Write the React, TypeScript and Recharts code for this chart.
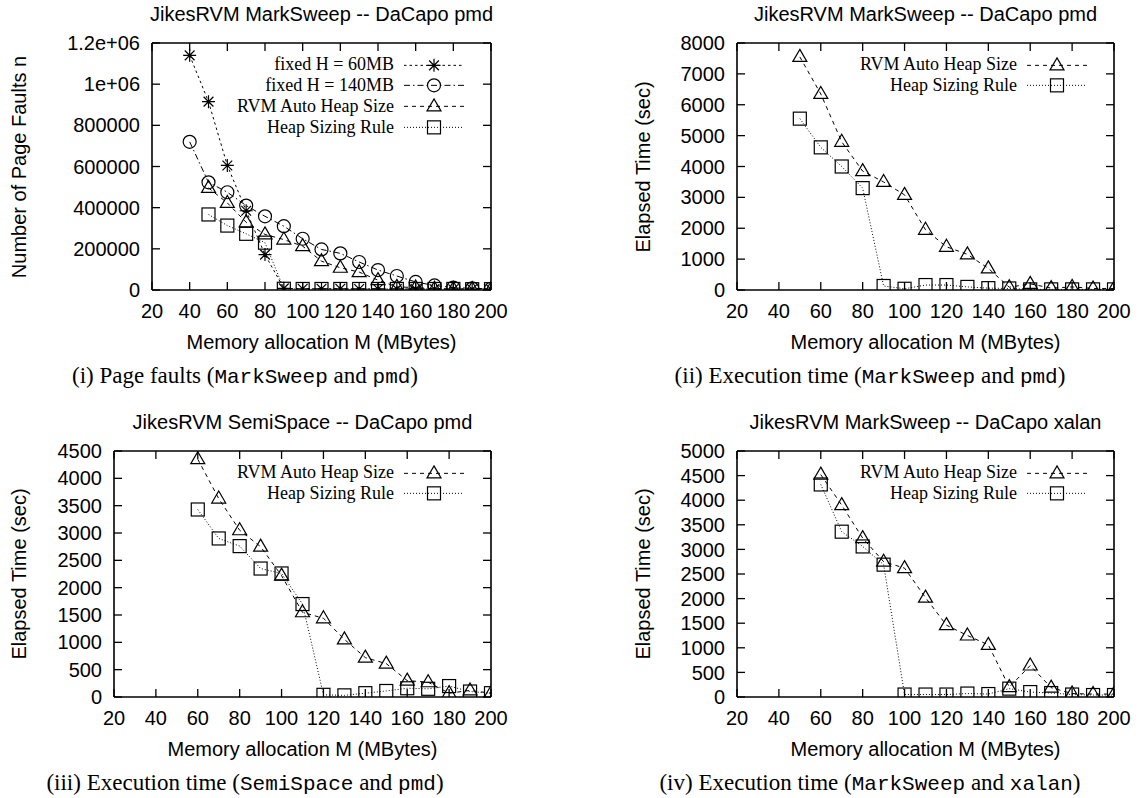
import React from "react";
import { LineChart, Line, XAxis, YAxis, Legend } from "recharts";

// (i) page faults, MarkSweep + pmd
const memFaults = [40, 50, 60, 70, 80, 90, 100, 110, 120, 130, 140, 150, 160, 170, 180, 190, 200];
const faultsFixed60 = [1140000, 915000, 605000, 385000, 172000, 8000, 6000, 6000, 6000, 5000, 5000, 5000, 5000, 5000, 4000, 4000, 4000];
const faultsFixed140 = [720000, 523000, 475000, 410000, 358000, 310000, 249000, 197000, 178000, 136000, 97000, 68000, 39000, 22000, 12000, 8000, 6000];
const faultsAuto = [null, 496000, 423000, 329000, 270000, 245000, 213000, 140000, 108000, 87000, 48000, 15000, 12000, 6000, 5000, 5000, 4000];
const faultsRule = [null, 367000, 313000, 273000, 230000, 6000, 5000, 5000, 5000, 5000, 5000, 5000, 5000, 5000, 5000, 4000, 4000];

// (ii) execution time, MarkSweep + pmd
const memPmd = [50, 60, 70, 80, 90, 100, 110, 120, 130, 140, 150, 160, 170, 180, 190, 200];
const pmdAuto = [7550, 6350, 4800, 3850, 3500, 3080, 1950, 1400, 1155, 700, 90, 200, 60, 100, 50, 50];
const pmdRule = [5550, 4620, 4000, 3300, 130, 40, 160, 160, 100, 60, 50, 20, 20, 20, 20, 20];

// (iii) execution time, SemiSpace + pmd
const memSemi = [60, 70, 80, 90, 100, 110, 120, 130, 140, 150, 160, 170, 180, 190, 200];
const semiAuto = [4350, 3630, 3050, 2750, 2220, 1550, 1440, 1055, 720, 610, 300, 270, 70, 120, 70];
const semiRule = [3430, 2900, 2760, 2350, 2260, 1700, 40, 30, 70, 110, 160, 150, 200, 100, 70];

// (iv) execution time, MarkSweep + xalan
const memXalan = [60, 70, 80, 90, 100, 110, 120, 130, 140, 150, 160, 170, 180, 190, 200];
const xalanAuto = [4520, 3900, 3230, 2750, 2620, 2020, 1460, 1250, 1060, 200, 640, 190, 70, 60, 60];
const xalanRule = [4320, 3360, 3060, 2690, 50, 50, 50, 70, 60, 170, 100, 80, 50, 40, 40];

const memTicks = [20, 40, 60, 80, 100, 120, 140, 160, 180, 200];
const faultTicks = [0, 200000, 400000, 600000, 800000, 1000000, 1200000];
const pmdTicks = [0, 1000, 2000, 3000, 4000, 5000, 6000, 7000, 8000];
const semiTicks = [0, 500, 1000, 1500, 2000, 2500, 3000, 3500, 4000, 4500];
const xalanTicks = [0, 500, 1000, 1500, 2000, 2500, 3000, 3500, 4000, 4500, 5000];

const SANS = "'Liberation Sans', Arial, sans-serif";
const SERIF = "'Liberation Serif', 'Times New Roman', serif";
const MONO = "'Liberation Mono', monospace";

const DASH = {
  fixed60: "2.5 3",
  fixed140: "6 3 1.5 3",
  auto: "4 4",
  rule: "1 2",
};

const toRows = (mem: number[], cols: Record<string, (number | null)[]>) =>
  mem.map((m, i) => {
    const row: any = { m };
    Object.keys(cols).forEach((k) => (row[k] = cols[k][i]));
    return row;
  });

const faultData = toRows(memFaults, { f60: faultsFixed60, f140: faultsFixed140, auto: faultsAuto, rule: faultsRule });
const pmdData = toRows(memPmd, { auto: pmdAuto, rule: pmdRule });
const semiData = toRows(memSemi, { auto: semiAuto, rule: semiRule });
const xalanData = toRows(memXalan, { auto: xalanAuto, rule: xalanRule });

const faultSeries = [
  { key: "f60", name: "fixed H = 60MB", dash: DASH.fixed60, marker: "star" },
  { key: "f140", name: "fixed H = 140MB", dash: DASH.fixed140, marker: "circle" },
  { key: "auto", name: "RVM Auto Heap Size", dash: DASH.auto, marker: "triangle" },
  { key: "rule", name: "Heap Sizing Rule", dash: DASH.rule, marker: "square" },
];
const timeSeries = faultSeries.slice(2);

function Marker({ kind, cx, cy }: any) {
  if (cx == null || cy == null) return null;
  const s = 6.5;
  const p = { fill: "none", stroke: "#000", strokeWidth: 1.2 };
  if (kind === "star") {
    const d = s * 0.75;
    return (
      <path
        {...p}
        d={`M${cx - s},${cy}H${cx + s}M${cx},${cy - s}V${cy + s}M${cx - d},${cy - d}L${cx + d},${cy + d}M${cx - d},${cy + d}L${cx + d},${cy - d}`}
      />
    );
  }
  if (kind === "circle") return <circle {...p} cx={cx} cy={cy} r={s} />;
  if (kind === "triangle")
    return <path {...p} d={`M${cx},${cy - 7.5}L${cx + 7},${cy + 4.5}L${cx - 7},${cy + 4.5}Z`} />;
  return <rect {...p} x={cx - s} y={cy - s} width={2 * s} height={2 * s} />;
}

const ROW_H = 20.7;
const TEXT_W = 220;

function LegendBox({ series }: any) {
  return (
    <div style={{ fontFamily: SERIF, fontSize: 18, color: "#000" }}>
      {series.map((s: any) => (
        <div key={s.key} style={{ display: "flex", alignItems: "center", height: ROW_H }}>
          <span style={{ width: TEXT_W, textAlign: "right", whiteSpace: "nowrap" }}>{s.name}</span>
          <svg width={70} height={ROW_H} style={{ overflow: "visible" }}>
            <line x1={10} x2={70} y1={ROW_H / 2} y2={ROW_H / 2} stroke="#000" strokeDasharray={s.dash} />
            <Marker kind={s.marker} cx={40} cy={ROW_H / 2} />
          </svg>
        </div>
      ))}
    </div>
  );
}

const TICK = 8;
const labelFont = { fill: "#000", fontSize: 20, fontFamily: SANS };
const fmtFaults = (v: number) => (v >= 1000000 ? `${v / 1000000}e+06` : String(v));

// gnuplot box frame with inward ticks on all four sides
function Frame({ w, h, yTicks }: any) {
  const yMax = yTicks[yTicks.length - 1];
  const edge = { stroke: "#000", strokeWidth: 1.6 };
  const tick = { stroke: "#000", strokeWidth: 1.3 };
  return (
    <svg
      width={w + 4}
      height={h + 4}
      viewBox={`-2 -2 ${w + 4} ${h + 4}`}
      style={{ position: "absolute", left: -2, top: -2, zIndex: 5, pointerEvents: "none" }}
    >
      <line {...edge} x1={0} x2={w} y1={0} y2={0} />
      <line {...edge} x1={0} x2={w} y1={h} y2={h} />
      <line {...edge} x1={0} x2={0} y1={0} y2={h} />
      <line {...edge} x1={w} x2={w} y1={0} y2={h} />
      {memTicks.map((t) => {
        const px = ((t - 20) / 180) * w;
        return (
          <g key={`x${t}`}>
            <line {...tick} x1={px} x2={px} y1={h} y2={h - TICK} />
            <line {...tick} x1={px} x2={px} y1={0} y2={TICK} />
          </g>
        );
      })}
      {yTicks.map((v: number) => {
        const py = h - (v / yMax) * h;
        return (
          <g key={`y${v}`}>
            <line {...tick} x1={0} x2={TICK} y1={py} y2={py} />
            <line {...tick} x1={w - TICK} x2={w} y1={py} y2={py} />
          </g>
        );
      })}
    </svg>
  );
}

function Panel({ left, top, w, h, data, series, yTicks, yFmt }: any) {
  const yAxisW = 100;
  const right = 40;
  const yMax = yTicks[yTicks.length - 1];
  return (
    <div style={{ position: "absolute", left: left - yAxisW, top: top - 10 }}>
      <LineChart
        width={yAxisW + w + right}
        height={10 + h + 40}
        data={data}
        margin={{ top: 10, right, bottom: 0, left: 0 }}
      >
        <XAxis
          dataKey="m"
          type="number"
          domain={[20, 200]}
          ticks={memTicks}
          interval={0}
          height={40}
          tickSize={0}
          tickMargin={14}
          tick={labelFont}
          axisLine={false}
          tickLine={false}
          allowDataOverflow
        />
        <YAxis
          type="number"
          domain={[0, yMax]}
          ticks={yTicks}
          interval={0}
          width={yAxisW}
          tickSize={0}
          tickMargin={12}
          tick={labelFont}
          tickFormatter={yFmt}
          axisLine={false}
          tickLine={false}
          allowDataOverflow
        />
        {series.map((s: any) => (
          <Line
            key={s.key}
            dataKey={s.key}
            name={s.name}
            stroke="#000"
            strokeWidth={1}
            strokeDasharray={s.dash}
            dot={(p: any) => <Marker key={`${s.key}-${p.index}`} kind={s.marker} cx={p.cx} cy={p.cy} />}
            activeDot={false}
            isAnimationActive={false}
          />
        ))}
        <Legend
          layout="vertical"
          align="center"
          verticalAlign="middle"
          wrapperStyle={{ position: "absolute", left: yAxisW + w - 97 - TEXT_W, top: 10 + 22 - ROW_H / 2, width: TEXT_W + 70 }}
          content={() => <LegendBox series={series} />}
        />
      </LineChart>
      <div style={{ position: "absolute", left: yAxisW, top: 10, width: w, height: h, zIndex: 5 }}>
        <Frame w={w} h={h} yTicks={yTicks} />
      </div>
    </div>
  );
}

function Txt({ x, y, children, rotate, style }: any) {
  return (
    <div
      style={{
        position: "absolute",
        left: x,
        top: y,
        transform: `translate(-50%, -50%)${rotate ? " rotate(-90deg)" : ""}`,
        whiteSpace: "nowrap",
        fontFamily: SANS,
        fontSize: 20,
        color: "#000",
        lineHeight: 1,
        ...style,
      }}
    >
      {children}
    </div>
  );
}

const capStyle = { fontFamily: SERIF, fontSize: 23 };
const code = { fontFamily: MONO, fontSize: 21 };

export default function App() {
  const panels = [
    { left: 152, top: 43, w: 339, h: 247, data: faultData, series: faultSeries, yTicks: faultTicks, yFmt: fmtFaults,
      title: "JikesRVM MarkSweep -- DaCapo pmd", ylab: "Number of Page Faults n", ylx: 19, capx: 245,
      cap: <>(i) Page faults (<span style={code}>MarkSweep</span> and <span style={code}>pmd</span>)</> },
    { left: 737, top: 43, w: 377, h: 247, data: pmdData, series: timeSeries, yTicks: pmdTicks, yFmt: String,
      title: "JikesRVM MarkSweep -- DaCapo pmd", ylab: "Elapsed Time (sec)", ylx: 643, capx: 870,
      cap: <>(ii) Execution time (<span style={code}>MarkSweep</span> and <span style={code}>pmd</span>)</> },
    { left: 114, top: 451, w: 377, h: 246, data: semiData, series: timeSeries, yTicks: semiTicks, yFmt: String,
      title: "JikesRVM SemiSpace -- DaCapo pmd", ylab: "Elapsed Time (sec)", ylx: 19, capx: 245,
      cap: <>(iii) Execution time (<span style={code}>SemiSpace</span> and <span style={code}>pmd</span>)</> },
    { left: 737, top: 451, w: 377, h: 246, data: xalanData, series: timeSeries, yTicks: xalanTicks, yFmt: String,
      title: "JikesRVM MarkSweep -- DaCapo xalan", ylab: "Elapsed Time (sec)", ylx: 643, capx: 870,
      cap: <>(iv) Execution time (<span style={code}>MarkSweep</span> and <span style={code}>xalan</span>)</> },
  ];

  return (
    <div style={{ position: "absolute", left: 0, top: 0, width: 1141, height: 798, background: "#fff", overflow: "hidden" }}>
      {panels.map((p, i) => (
        <React.Fragment key={i}>
          <Panel {...p} />
          <Txt x={p.left + p.w / 2} y={p.top - 29}>{p.title}</Txt>
          <Txt x={p.ylx} y={p.top + p.h / 2} rotate>{p.ylab}</Txt>
          <Txt x={p.left + p.w / 2} y={p.top + p.h + 52}>Memory allocation M (MBytes)</Txt>
          <Txt x={p.capx} y={p.top + p.h + 86} style={capStyle}>{p.cap}</Txt>
        </React.Fragment>
      ))}
    </div>
  );
}
